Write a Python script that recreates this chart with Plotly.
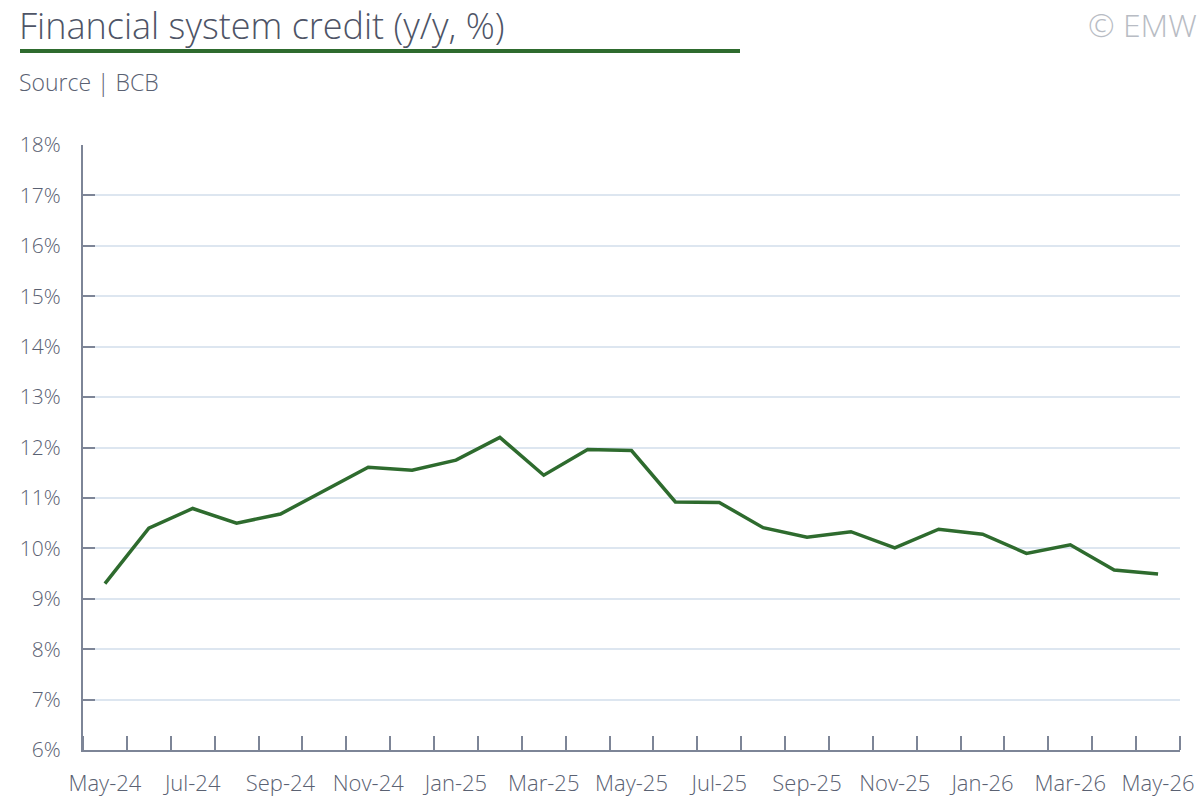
import plotly.graph_objects as go

# monthly y/y growth of financial system credit, May-24 .. May-26
months = ["May-24", "Jun-24", "Jul-24", "Aug-24", "Sep-24", "Oct-24", "Nov-24",
          "Dec-24", "Jan-25", "Feb-25", "Mar-25", "Apr-25", "May-25", "Jun-25",
          "Jul-25", "Aug-25", "Sep-25", "Oct-25", "Nov-25", "Dec-25", "Jan-26",
          "Feb-26", "Mar-26", "Apr-26", "May-26"]
credit_yy = [9.30, 10.40, 10.79, 10.50, 10.68, 11.14, 11.61, 11.55, 11.75, 12.20,
             11.45, 11.96, 11.94, 10.92, 10.91, 10.41, 10.22, 10.33, 10.01, 10.38,
             10.28, 9.90, 10.07, 9.57, 9.49]
y_ticks = [6, 7, 8, 9, 10, 11, 12, 13, 14, 15, 16, 17, 18]

GREEN = "#2e6b2e"
AXIS = "#7d8597"
TEXT = "#5a6172"
FONT = "Open Sans"

x = list(range(len(months)))
label_idx = x[::2]

fig = go.Figure()
fig.add_trace(go.Scatter(x=x, y=credit_yy, mode="lines",
                         line=dict(color=GREEN, width=3.5), hoverinfo="skip"))

W, H = 1200, 800
L, R, T, B = 83, 20, 145, 50
pw, ph = W - L - R, H - T - B

# helpers: page pixels -> paper coords
def px_x(p):
    return (p - L) / pw

def px_y(p):
    return (H - B - p) / ph

fig.update_layout(
    width=W, height=H,
    margin=dict(l=L, r=R, t=T, b=B),
    paper_bgcolor="white", plot_bgcolor="white",
    showlegend=False,
    font=dict(family=FONT, color=TEXT),
    xaxis=dict(range=[-0.5, len(months) - 0.5], tickmode="array",
               tickvals=label_idx, ticktext=[months[i] for i in label_idx],
               ticks="", showgrid=False, zeroline=False, automargin=False,
               showline=True, linecolor=AXIS, linewidth=2,
               tickfont=dict(size=22, color=TEXT, weight=300), ticklabelstandoff=13,
               minor=dict(tick0=0.5, dtick=1, ticks="inside", ticklen=14,
                          tickwidth=2, tickcolor=AXIS, showgrid=False)),
    yaxis=dict(range=[6, 18], tickmode="array", tickvals=y_ticks,
               ticktext=[f"{v}%" for v in y_ticks],
               ticks="inside", ticklen=12, tickwidth=2, tickcolor=AXIS,
               showgrid=True, gridcolor="#dde6f0", gridwidth=2, zeroline=False,
               showline=True, linecolor=AXIS, linewidth=2, automargin=False,
               tickfont=dict(size=21, color=TEXT, weight=300), ticklabelstandoff=16),
)

fig.add_annotation(text="Financial system credit (y/y, %)", xref="paper", yref="paper",
                   x=px_x(17), y=px_y(26), xanchor="left", yanchor="middle",
                   showarrow=False, font=dict(size=36, color="#4e5466", weight=300))
fig.add_annotation(text="Source | BCB", xref="paper", yref="paper",
                   x=px_x(17), y=px_y(82), xanchor="left", yanchor="middle",
                   showarrow=False, font=dict(size=23, color=TEXT, weight=300))
fig.add_annotation(text="© EMW", xref="paper", yref="paper",
                   x=px_x(1199), y=px_y(24), xanchor="right", yanchor="middle",
                   showarrow=False, font=dict(size=32, color="#b8bcc4", weight=300))
fig.add_shape(type="line", xref="paper", yref="paper",
              x0=px_x(20), x1=px_x(740), y0=px_y(51), y1=px_y(51),
              line=dict(color=GREEN, width=4))

# drop the default 8px body margin so the figure sits at the page corner
fig.write_html("out.html", config={"displayModeBar": False},
               post_script="document.body.style.margin='0';")
